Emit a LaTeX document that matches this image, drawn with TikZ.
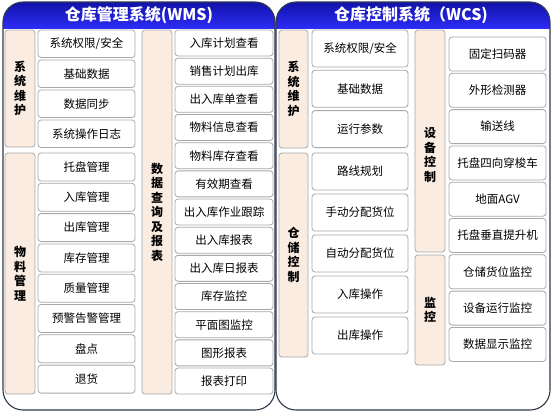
\documentclass[tikz,border=0pt]{standalone}
\usepackage{fontspec}
\newfontfamily\cjk{Noto Sans CJK SC}
\definecolor{peach}{RGB}{251,236,226}
\definecolor{boxline}{RGB}{168,168,168}
\definecolor{panelline}{RGB}{48,56,76}
\definecolor{hdtop}{RGB}{18,18,170}
\definecolor{hdbot}{RGB}{45,45,245}
\tikzset{
  itembox/.style={draw=boxline, fill=white, rounded corners=3pt, line width=0.8pt, inner sep=0pt,
    font=\cjk\fontsize{11.5}{13}\selectfont},
  catbox/.style={draw=boxline, fill=peach, rounded corners=3pt, line width=0.8pt, inner sep=0pt,
    align=center, font=\cjk\bfseries\fontsize{12}{14.5}\selectfont},
  cattext/.style={align=center, inner sep=0pt, font=\cjk\bfseries\fontsize{12}{14.5}\selectfont},
  panel/.style={draw=panelline, line width=1.1pt, rounded corners=20pt},
  headtext/.style={text=white, inner sep=0pt, font=\cjk\bfseries\fontsize{16}{18}\selectfont}
}
\newcommand\bx[7]{\node[#1, minimum width={(#5-#3)*1pt}, minimum height={(#6-#4)*1pt}] (#2) at ({(#3+#5)/2},{(#4+#6)/2}) {#7};}
\begin{document}
\begin{tikzpicture}[x=1pt,y=-1pt]
\useasboundingbox (0,0) rectangle (553,413);
% panels
\foreach \xa/\xb in {3/275, 276/550}{
  \fill[white, rounded corners=20pt] (\xa,2) rectangle (\xb,410);
  \begin{scope}
    \clip[rounded corners=20pt] (\xa,2) rectangle (\xb,410);
    \shade[top color=hdtop, bottom color=hdbot] (\xa,2) rectangle (\xb,28.5);
  \end{scope}
  \draw[panel] (\xa,2) rectangle (\xb,410);
}
\node[headtext] (h1) at (139,15) {仓库管理系统(WMS)};
\node[headtext] (h2) at (411,15) {仓库控制系统（WCS)};
% ---- left panel ----
\bx{catbox}{lc1}{5}{30}{35}{147}{系\\统\\维\\护}
\bx{catbox}{lc2}{5}{153}{35}{394}{物\\料\\管\\理}
\bx{catbox}{lc3}{142}{30}{172}{394}{数\\据\\查\\询\\及\\报\\表}
\foreach \t [count=\i from 0] in {系统权限/安全,基础数据,数据同步,系统操作日志}{
  \pgfmathsetmacro\ya{30+\i*30}
  \bx{itembox}{la\i}{38}{\ya}{135}{\ya+27.5}{\t}
}
\foreach \t [count=\i from 0] in {托盘管理,入库管理,出库管理,库存管理,质量管理,预警告警管理,盘点,退货}{
  \pgfmathsetmacro\ya{153+\i*30.3}
  \bx{itembox}{lb\i}{38}{\ya}{135}{\ya+28}{\t}
}
\foreach \t [count=\i from 0] in {入库计划查看,销售计划出库,出入库单查看,物料信息查看,物料库存查看,有效期查看,出入库作业跟踪,出入库报表,出入库日报表,库存监控,平面图监控,图形报表,报表打印}{
  \pgfmathsetmacro\ya{30+\i*28.17}
  \bx{itembox}{lr\i}{175}{\ya}{273}{\ya+26}{\t}
}
% ---- right panel ----
\bx{catbox}{rc1}{279}{30}{308}{148}{系\\统\\维\\护}
\bx{catbox}{rc2}{279}{153}{308}{357}{仓\\储\\控\\制}
\bx{catbox}{rc3}{415}{30}{445}{252}{}
\node[cattext] (rc3t) at (430,155) {设\\备\\控\\制};
\bx{catbox}{rc4}{415}{255}{445}{365}{监\\控}
\foreach \t [count=\i from 0] in {系统权限/安全,基础数据,运行参数}{
  \pgfmathsetmacro\ya{30+\i*40.3}
  \bx{itembox}{ra\i}{312}{\ya}{408}{\ya+37}{\t}
}
\foreach \t [count=\i from 0] in {路线规划,手动分配货位,自动分配货位,入库操作,出库操作}{
  \pgfmathsetmacro\ya{153+\i*41}
  \bx{itembox}{rb\i}{312}{\ya}{408}{\ya+37}{\t}
}
\foreach \t [count=\i from 0] in {固定扫码器,外形检测器,输送线,托盘四向穿梭车,地面AGV,托盘垂直提升机,仓储货位监控,设备运行监控,数据显示监控}{
  \pgfmathsetmacro\ya{37+\i*36.3}
  \bx{itembox}{rr\i}{449}{\ya}{546}{\ya+34}{\t}
}
\end{tikzpicture}
\end{document}
